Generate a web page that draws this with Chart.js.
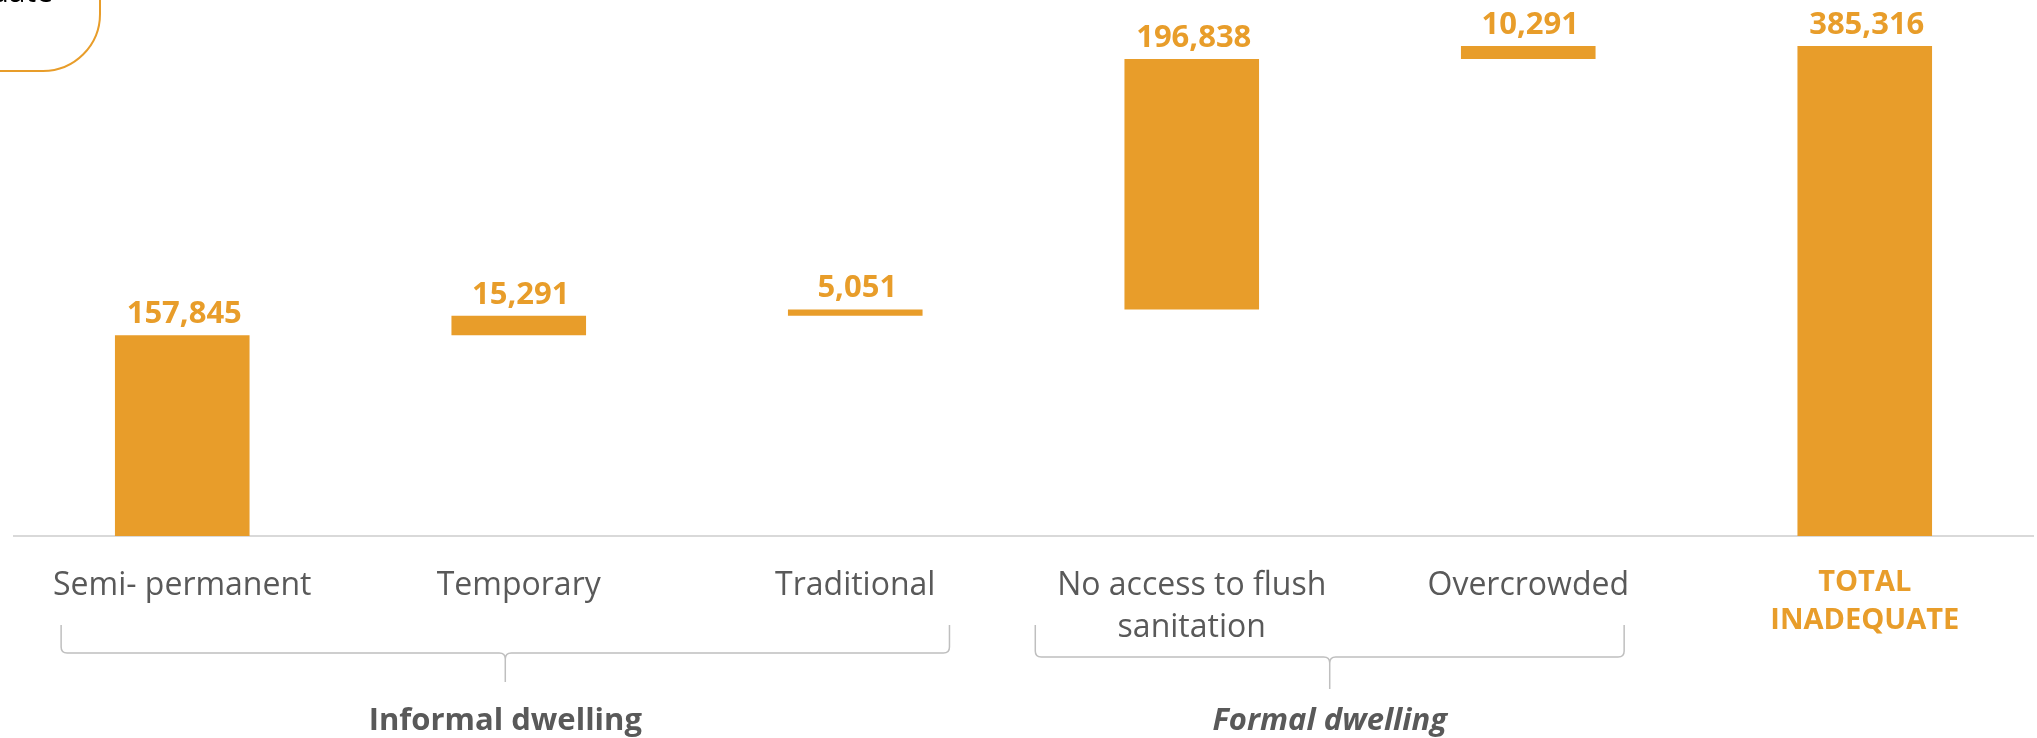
<!DOCTYPE html>
<html>
<head>
<meta charset="utf-8">
<title>Inadequate dwellings</title>
<script src="https://cdn.jsdelivr.net/npm/chart.js@4.4.1/dist/chart.umd.min.js"></script>
<style>
    html, body { margin: 0; padding: 0; background: #ffffff; }
    #wrap { width: 2037px; height: 738px; position: relative; }
</style>
</head>
<body>
<div id="wrap"><canvas id="waterfallChart"></canvas></div>
<script>
const categories = [
    'Semi- permanent',
    'Temporary',
    'Traditional',
    ['No access to flush', 'sanitation'],
    'Overcrowded',
    ['TOTAL', 'INADEQUATE'],
];
const values = [157845, 15291, 5051, 196838, 10291, 385316];
const isTotal = [false, false, false, false, false, true];
const groups = [
    { label: 'Informal dwelling', from: 0, to: 2, italic: false },
    { label: 'Formal dwelling', from: 3, to: 4, italic: true },
];
const legendText = 'Inadequate';

const ORANGE = '#E89D2A';
const GREY_TEXT = '#595959';
const FONT = '"Open Sans", "Noto Sans", sans-serif';

// running totals -> floating [start, end] bars
function buildRanges() {
    let running = 0;
    return values.map((v, i) => {
        if (isTotal[i]) return [0, v];
        const range = [running, running + v];
        running += v;
        return range;
    });
}

const valueLabels = {
    id: 'valueLabels',
    afterDatasetsDraw(chart) {
        const ctx = chart.ctx;
        const meta = chart.getDatasetMeta(0);
        ctx.save();
        ctx.fillStyle = ORANGE;
        ctx.font = `bold 31px ${FONT}`;
        ctx.textAlign = 'center';
        ctx.textBaseline = 'alphabetic';
        meta.data.forEach((bar, i) => {
            const top = Math.min(bar.y, bar.base);
            ctx.fillText(values[i].toLocaleString('en-US'), bar.x + 2, top - 12);
        });
        ctx.restore();
    },
};

const groupBraces = {
    id: 'groupBraces',
    afterDraw(chart) {
        const ctx = chart.ctx;
        const x = chart.scales.x;
        const step = x.getPixelForValue(1) - x.getPixelForValue(0);
        const shapes = [
            { left: -0.36, right: 0.28, horiz: 653, tip: 682 },
            { left: -0.465, right: 0.285, horiz: 657, tip: 689 },
        ];

        groups.forEach((g, gi) => {
            const s = shapes[gi];
            const left = x.getPixelForValue(g.from) + s.left * step;
            const right = x.getPixelForValue(g.to) + s.right * step;
            const mid = (left + right) / 2;
            const top = 625;
            const r = 6;

            ctx.save();
            ctx.strokeStyle = '#BFBFBF';
            ctx.lineWidth = 1.5;
            ctx.beginPath();
            ctx.moveTo(left, top);
            ctx.lineTo(left, s.horiz - r);
            ctx.quadraticCurveTo(left, s.horiz, left + r, s.horiz);
            ctx.lineTo(mid - r, s.horiz);
            ctx.quadraticCurveTo(mid, s.horiz, mid, s.horiz + r);
            ctx.lineTo(mid, s.tip);
            ctx.moveTo(mid, s.horiz + r);
            ctx.quadraticCurveTo(mid, s.horiz, mid + r, s.horiz);
            ctx.lineTo(right - r, s.horiz);
            ctx.quadraticCurveTo(right, s.horiz, right, s.horiz - r);
            ctx.lineTo(right, top);
            ctx.stroke();

            ctx.fillStyle = GREY_TEXT;
            ctx.font = `${g.italic ? 'italic ' : ''}bold 31px ${FONT}`;
            ctx.textAlign = 'center';
            ctx.textBaseline = 'alphabetic';
            ctx.fillText(g.label, mid, 730);
            ctx.restore();
        });
    },
};

// partly visible legend box in the top-left corner
const cornerBox = {
    id: 'cornerBox',
    beforeDraw(chart) {
        const ctx = chart.ctx;
        ctx.save();
        ctx.strokeStyle = ORANGE;
        ctx.lineWidth = 2;
        ctx.beginPath();
        ctx.roundRect(-200, -200, 300, 271, 57);
        ctx.stroke();
        ctx.fillStyle = '#000000';
        ctx.font = `30px ${FONT}`;
        ctx.textAlign = 'right';
        ctx.textBaseline = 'alphabetic';
        ctx.fillText(legendText, 53, 2);
        ctx.restore();
    },
};

new Chart(document.getElementById('waterfallChart'), {
    type: 'bar',
    data: {
        labels: categories,
        datasets: [
            {
                data: buildRanges(),
                backgroundColor: ORANGE,
                borderWidth: 0,
                borderSkipped: false,
                categoryPercentage: 0.8,
                barPercentage: 0.5,
            },
        ],
    },
    options: {
        responsive: true,
        maintainAspectRatio: false,
        animation: false,
        layout: {
            padding: { top: 0, left: 14, right: 4, bottom: 0 },
        },
        plugins: {
            legend: { display: false },
            tooltip: { enabled: false },
        },
        scales: {
            x: {
                grid: { display: false, drawTicks: false },
                border: { display: true, color: '#D9D9D9', width: 2 },
                afterFit: scale => { scale.height = 202; },
                ticks: {
                    padding: 28,
                    maxRotation: 0,
                    autoSkip: false,
                    color: ctx => (isTotal[ctx.index] ? ORANGE : GREY_TEXT),
                    font: ctx => (isTotal[ctx.index]
                        ? { family: FONT, size: 29, weight: 'bold', lineHeight: 1.31 }
                        : { family: FONT, size: 32, weight: 'normal', lineHeight: 1.34 }),
                },
            },
            y: {
                display: false,
                min: 0,
                max: 421500,
            },
        },
    },
    plugins: [cornerBox, valueLabels, groupBraces],
});
</script>
</body>
</html>
